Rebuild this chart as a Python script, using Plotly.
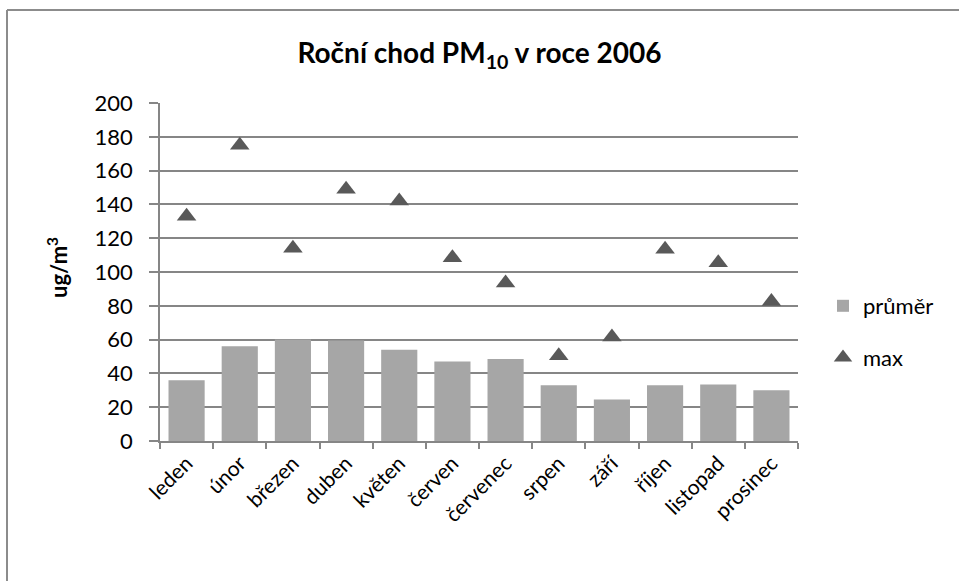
import plotly.graph_objects as go

months = ["leden", "únor", "březen", "duben", "květen", "červen",
          "červenec", "srpen", "září", "říjen", "listopad", "prosinec"]
prumer = [36, 56, 60, 59.5, 54, 47, 48.5, 33, 24.5, 33, 33.5, 30]
maxima = [133, 175, 114, 149, 142, 108.5, 93.5, 50.5, 61.5, 113.5, 105.5, 82.5]
y_ticks = [0, 20, 40, 60, 80, 100, 120, 140, 160, 180, 200]

FONT = "Lato"
W, H = 959, 581
L, R, T, B = 160, 161, 103, 140
PW, PH = W - L - R, H - T - B

def px(x):
    return (x - L) / PW

def py(y):
    return (H - B - y) / PH

fig = go.Figure()
fig.add_trace(go.Bar(
    x=months, y=prumer, name="průměr",
    marker=dict(color="#a6a6a6", line=dict(width=0)),
    legendgroup="a",
))
fig.add_trace(go.Scatter(
    x=months, y=maxima, name="max", mode="markers",
    marker=dict(symbol="triangle-up", size=17, color="#595959"),
    legendgroup="b",
))

fig.update_layout(
    width=W, height=H,
    margin=dict(l=L, r=R, t=T, b=B),
    paper_bgcolor="white", plot_bgcolor="white",
    font=dict(family=FONT, size=20, color="black"),
    bargap=0.32,
    title=dict(text="<b>Roční chod PM<sub>10</sub> v roce 2006</b>",
               x=0.5, xanchor="center", y=1 - 53 / H, yanchor="middle",
               font=dict(family=FONT, size=28, color="black")),
    legend=dict(x=px(823), y=py(285), xanchor="left", yanchor="top",
                font=dict(family=FONT, size=22), tracegroupgap=20,
                bgcolor="rgba(0,0,0,0)", itemwidth=30),
    showlegend=True,
    shapes=[
        dict(type="line", xref="paper", yref="paper",
             x0=px(7), x1=px(959), y0=py(10), y1=py(10),
             line=dict(color="#8c8c8c", width=2)),
        dict(type="line", xref="paper", yref="paper",
             x0=px(7), x1=px(7), y0=py(10), y1=py(581),
             line=dict(color="#8c8c8c", width=2)),
    ],
    annotations=[
        dict(text="<b>ug/m<sup>3</sup></b>", xref="paper", yref="paper",
             x=px(57), y=py(268), xanchor="center", yanchor="middle",
             textangle=-90, showarrow=False,
             font=dict(family=FONT, size=22, color="black")),
    ],
)
fig.update_xaxes(
    type="category", range=[-0.5, len(months) - 0.5],
    tickangle=-45, tickson="boundaries",
    ticks="outside", ticklen=6, tickcolor="#868686", tickwidth=1.5,
    showline=True, linecolor="#868686", linewidth=1.5,
    showgrid=False, tickfont=dict(family=FONT, size=21, color="black"),
)
fig.update_yaxes(
    range=[0, 200], tickvals=y_ticks, ticks="outside", ticklen=9,
    tickcolor="#868686", tickwidth=1.5, ticklabelstandoff=12,
    showline=True, linecolor="#868686", linewidth=1.5,
    showgrid=True, gridcolor="#868686", gridwidth=1.5,
    zeroline=False,
    tickfont=dict(family=FONT, size=22, color="black"),
)

fig.write_html("out.html", post_script="document.body.style.margin='0';",
               config={"displayModeBar": False})
